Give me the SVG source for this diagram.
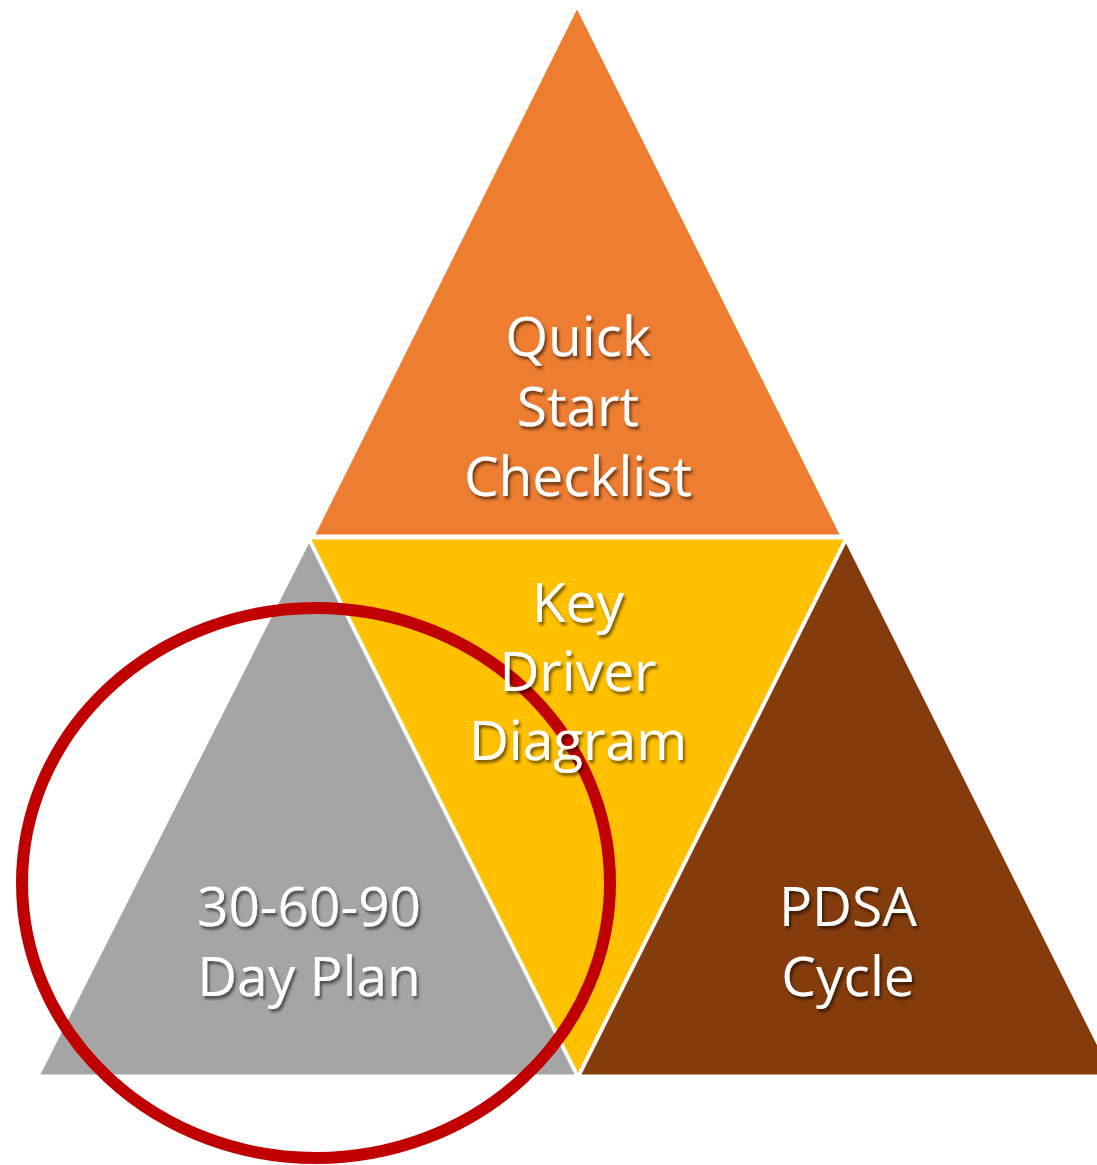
<svg xmlns="http://www.w3.org/2000/svg" width="1097" height="1165" viewBox="0 0 1097 1165">
  <defs>
    <filter id="shadow" x="-10%" y="-10%" width="130%" height="140%">
      <feDropShadow dx="2" dy="3" stdDeviation="1.8" flood-color="#000" flood-opacity="0.55"/>
    </filter>
  </defs>
  <style>
    .tri { stroke: #fff; stroke-width: 3; stroke-linejoin: miter; }
    .lbl { font-family: "Open Sans", "Liberation Sans", sans-serif; font-size: 55px; fill: #fff; text-anchor: middle; filter: url(#shadow); }
  </style>
  <rect width="1097" height="1165" fill="#fff"/>
  <g id="node-quick-start">
    <polygon class="tri" fill="#ED7D31" points="577,6 313,536 842,536"/>
  </g>
  <g id="node-key-driver">
    <polygon class="tri" fill="#FFC000" points="309,538 846,538 578,1076"/>
  </g>
  <g id="node-30-60-90">
    <polygon class="tri" fill="#A5A5A5" points="309,540 38,1076 577,1076"/>
  </g>
  <g id="node-pdsa">
    <polygon class="tri" fill="#843C0C" points="846,540 579,1076 1114,1076"/>
  </g>
  <g id="connectors">
    <ellipse cx="316" cy="883" rx="294" ry="275" fill="none" stroke="#C00000" stroke-width="12"/>
  </g>
  <g id="label-quick-start">
    <text class="lbl"><tspan x="578" y="356">Quick</tspan><tspan x="578" y="426">Start</tspan><tspan x="578" y="496">Checklist</tspan></text>
  </g>
  <g id="label-key-driver">
    <text class="lbl"><tspan x="578" y="622">Key</tspan><tspan x="578" y="691">Driver</tspan><tspan x="578" y="760">Diagram</tspan></text>
  </g>
  <g id="label-30-60-90">
    <text class="lbl"><tspan x="309" y="926">30-60-90</tspan><tspan x="309" y="996">Day Plan</tspan></text>
  </g>
  <g id="label-pdsa">
    <text class="lbl"><tspan x="848" y="926">PDSA</tspan><tspan x="848" y="996">Cycle</tspan></text>
  </g>
</svg>
